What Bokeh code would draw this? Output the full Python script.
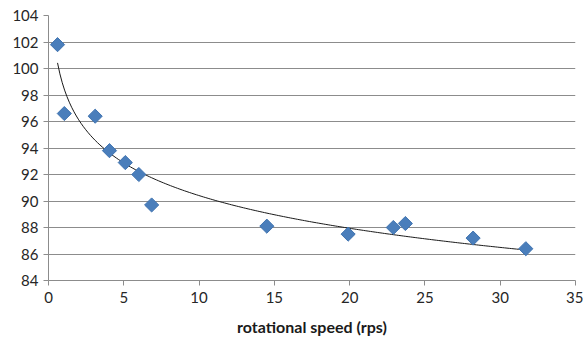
import numpy as np
from bokeh.plotting import figure
from bokeh.models import Range1d, FixedTicker
from bokeh.embed import file_html
from bokeh.resources import INLINE

# data
speed = [0.6, 1.05, 3.1, 4.05, 5.1, 6.0, 6.85, 14.5, 19.9, 22.9, 23.7, 28.2, 31.7]
value = [101.8, 96.6, 96.4, 93.8, 92.9, 92.0, 89.7, 88.1, 87.5, 88.0, 88.3, 87.2, 86.4]
x_ticks = [0, 5, 10, 15, 20, 25, 30, 35]
y_ticks = [84, 86, 88, 90, 92, 94, 96, 98, 100, 102, 104]

# logarithmic trendline (least squares on ln x)
b, a = np.polyfit(np.log(speed), value, 1)
xs = np.linspace(min(speed), max(speed), 200)
ys = a + b * np.log(xs)

FONT = "Lato"

p = figure(width=583, height=338, output_backend="svg", toolbar_location=None,
           x_range=Range1d(0, 35), y_range=Range1d(84, 104),
           min_border_left=48, min_border_right=8, min_border_top=15, min_border_bottom=57)
p.outline_line_color = None
p.background_fill_color = "white"

p.xgrid.grid_line_color = None
p.ygrid.grid_line_color = "#8c8c8c"
p.ygrid.grid_line_width = 1

p.xaxis.ticker = FixedTicker(ticks=x_ticks)
p.yaxis.ticker = FixedTicker(ticks=y_ticks)
for ax in (p.xaxis[0], p.yaxis[0]):
    ax.axis_line_color = "#8c8c8c"
    ax.major_tick_line_color = "#8c8c8c"
    ax.major_tick_in = 0
    ax.major_tick_out = 5
    ax.minor_tick_line_color = None
    ax.major_label_text_font = FONT
    ax.major_label_text_font_size = "15px"
    ax.major_label_text_color = "#262626"
p.yaxis.major_label_standoff = 5
p.xaxis.major_label_standoff = 6

p.xaxis.axis_label = "rotational speed (rps)"
p.xaxis.axis_label_text_font = FONT
p.xaxis.axis_label_text_font_size = "16px"
p.xaxis.axis_label_text_font_style = "bold"
p.xaxis.axis_label_text_color = "#1a1a1a"
p.xaxis.axis_label_standoff = 11

p.line(xs, ys, line_color="#1a1a1a", line_width=1)
p.scatter(speed, value, marker="square", angle=np.pi / 4, size=10,
          fill_color="#4A7EBB", line_color="#3F73B0", line_width=1)

open("out.html", "w").write(file_html(p, INLINE))
